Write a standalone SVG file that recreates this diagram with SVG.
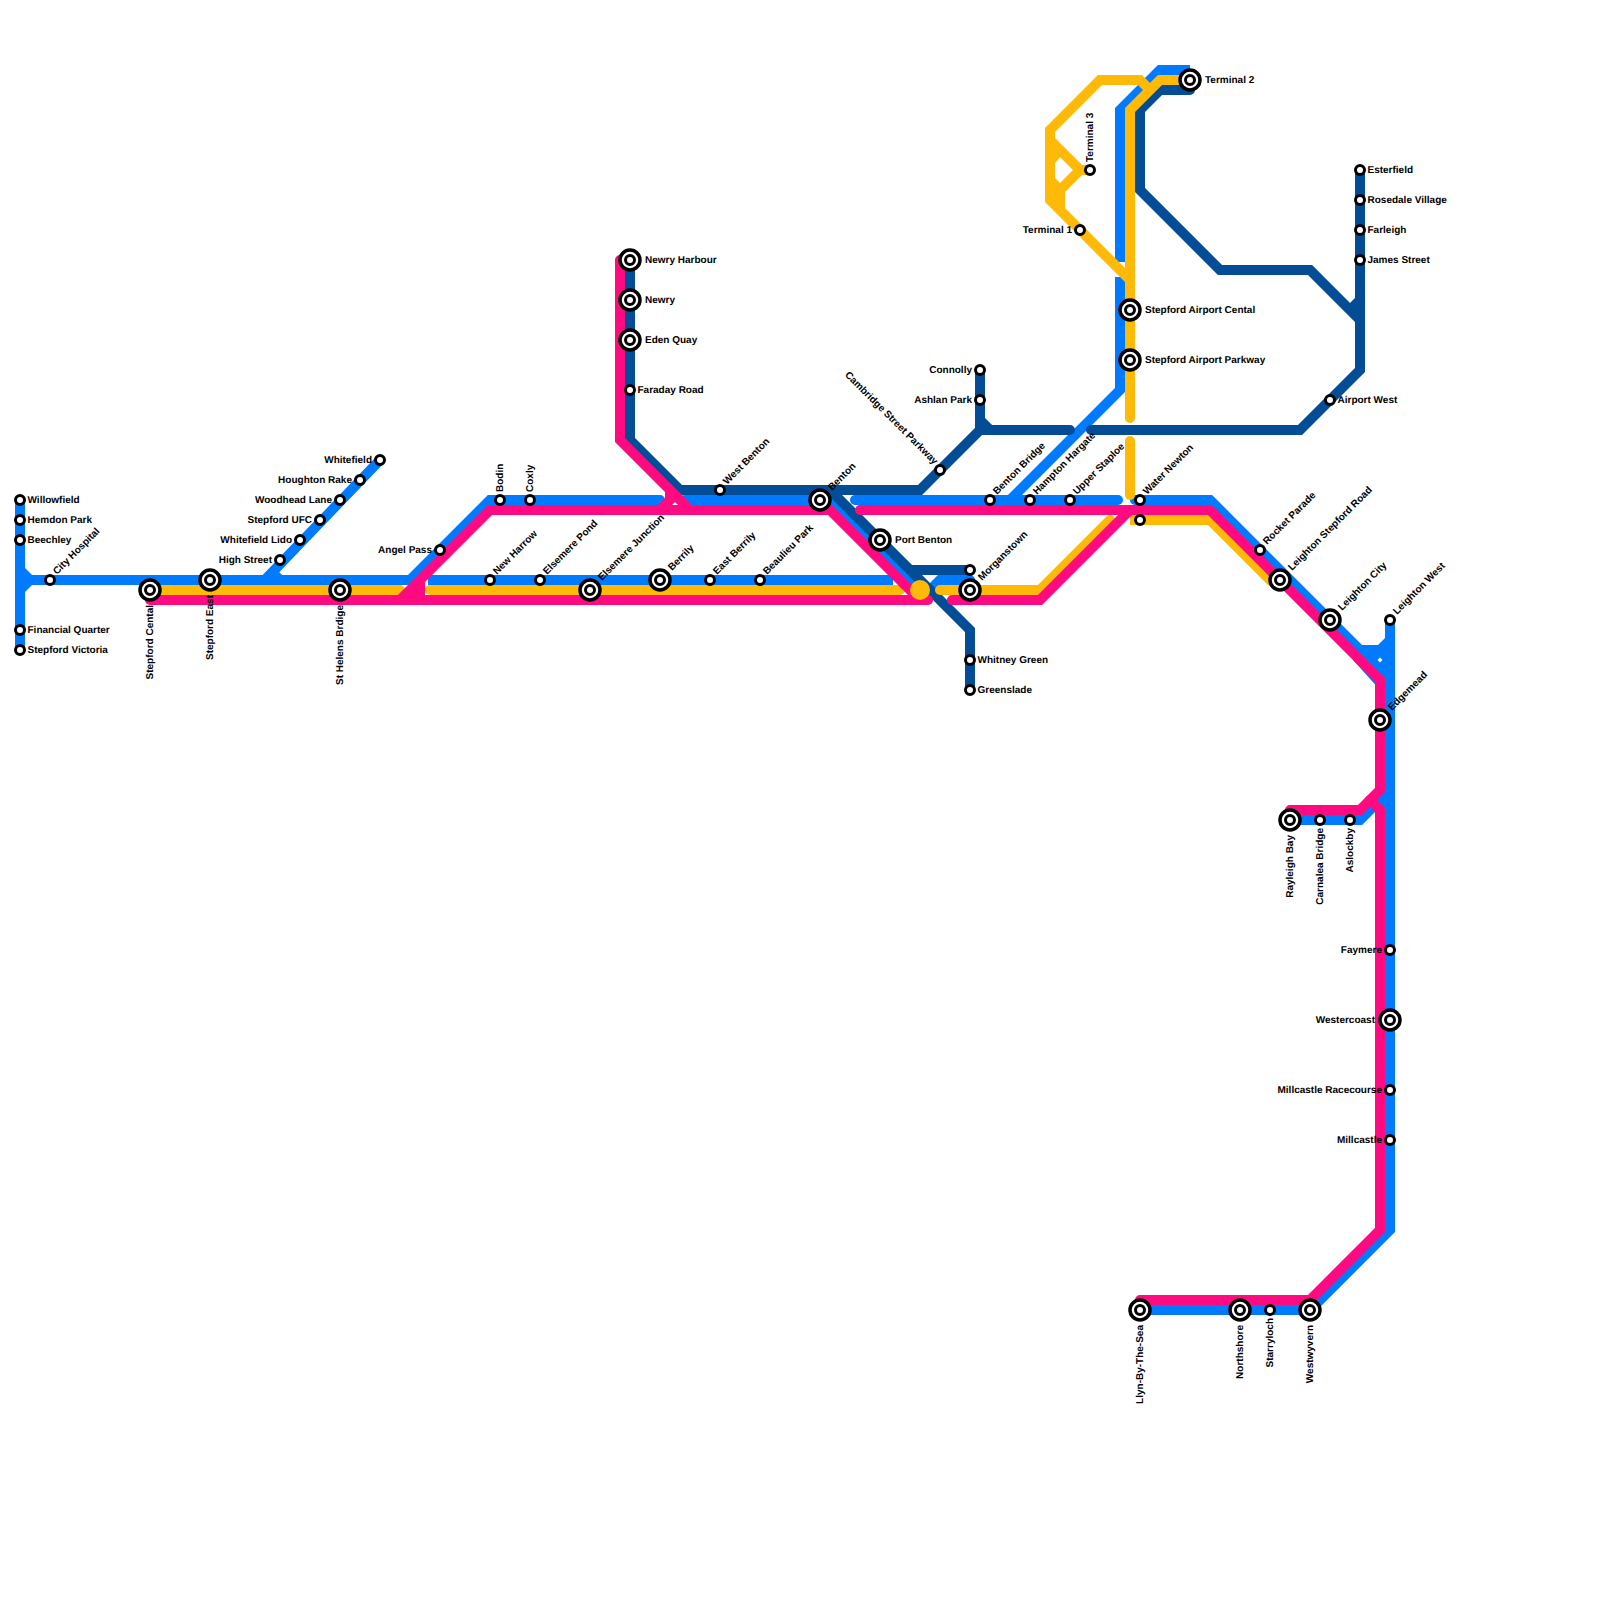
<svg xmlns="http://www.w3.org/2000/svg" width="1600" height="1600" viewBox="0 0 1600 1600">
<style>
.l{fill:none;stroke-width:10;stroke-linecap:round;stroke-linejoin:miter;stroke-miterlimit:4}
.b{stroke-linecap:butt}
.blue{stroke:#007AFF}.dark{stroke:#034C96}.yel{stroke:#FFBA08}.pink{stroke:#FF0A80}
.fb{fill:#007AFF;fill-rule:evenodd}.fy{fill:#FFBA08}
circle{fill:#fff;stroke:#000}
.s{stroke-width:3}
.o{stroke-width:3.5}
.c{fill:#FFBA08;stroke:none}
text{font:bold 10px "Liberation Sans",Arial,sans-serif;fill:#000;text-rendering:geometricPrecision}
.e{text-anchor:end}
</style>
<rect width="1600" height="1600" fill="#fff"/>
<g id="connectors">
<g id="line-blue">
<path class="l blue" d="M20 500V650M20 570L30 580L20 590M20 580H410L490 500H660"/>
<path class="l blue b" d="M260 585L380 460M270 570L280 580"/>
<path class="l blue" d="M685 500H830L920 590"/>
<path class="l blue b" d="M428 580H893"/>
<path class="l blue" d="M930 590L940 580H970"/>
<path class="l blue" d="M855 500H1118"/>
<path class="l blue b" d="M1010 500L1120 390V277"/>
<path class="l blue b" d="M1120 262V110L1160 70H1190"/>
<path class="l blue" d="M1135 500H1210L1360 650M1390 620V1230L1310 1310H1140"/>
<path class="fb" d="M1358 645H1378L1385 638H1390V690H1380L1353 660ZM1380 657.500L1382.500 660L1380 662.500L1377.500 660Z"/>
<path class="l blue" d="M1290 820H1360L1390 790"/>
<path class="l blue b" d="M1378 798L1390 810"/>
</g>
<g id="line-dark">
<path class="l dark" d="M630 260V440L680 490H920L980 430H1070"/>
<path class="l dark" d="M980 370V430M980 420L990 430"/>
<path class="l dark" d="M1091 430H1300L1360 370V170"/>
<path class="l dark" d="M1190 90H1160L1140 110V190L1220 270H1310L1360 320M1350 310L1360 300"/>
<path class="l dark" d="M830 490L970 630V690M910 570H970"/>
</g>
<g id="line-yellow">
<path class="l yel" d="M150 590H400"/>
<path class="l yel" d="M430 590H900"/>
<path class="l yel" d="M940 590H1040L1110 520"/>
<path class="l yel" d="M1130 441V495"/>
<path class="l yel" d="M1130 418V110L1160 80H1190"/>
<path class="l yel b" d="M1130 280L1050 200V130L1100 80H1140L1150 90"/>
<path class="l yel b" d="M1050 140L1080 170H1090M1080 170L1060 190V210"/>
<path class="fy" d="M1050 140L1062 155L1055 163ZM1055 178L1060 183L1065 190V208L1050 205Z"/>
<path class="l yel b" d="M1130 520H1210L1272 582"/>
</g>
<g id="line-pink">
<path class="l pink" d="M150 600H928"/>
<path class="l pink" d="M400 600L490 510H830L920 600"/>
<path class="l pink b" d="M420 580V600M408 590H425"/>
<path class="l pink" d="M620 260V440L690 510"/>
<path class="l pink b" d="M670 490V500L660 510"/>
<path class="l pink" d="M860 510H1210L1380 680V790L1360 810H1290"/>
<path class="l pink" d="M952 600H1040L1130 510"/>
<path class="l pink" d="M1370 800L1380 810V1230L1310 1300H1140"/>
</g>
<circle class="c" cx="920" cy="590" r="10"/>
</g>
<g id="stations">
<g id="willowfield"><circle class="s" cx="20" cy="500" r="4.500"/><text x="27.500" y="502.500">Willowfield</text></g>
<g id="hemdon-park"><circle class="s" cx="20" cy="520" r="4.500"/><text x="27.500" y="522.500">Hemdon Park</text></g>
<g id="beechley"><circle class="s" cx="20" cy="540" r="4.500"/><text x="27.500" y="542.500">Beechley</text></g>
<g id="city-hospital"><circle class="s" cx="50" cy="580" r="4.500"/><text transform="translate(57 575) rotate(-45)">City Hospital</text></g>
<g id="financial-quarter"><circle class="s" cx="20" cy="630" r="4.500"/><text x="27.500" y="632.500">Financial Quarter</text></g>
<g id="stepford-victoria"><circle class="s" cx="20" cy="650" r="4.500"/><text x="27.500" y="652.500">Stepford Victoria</text></g>
<g id="stepford-cental"><circle class="o" cx="150" cy="590" r="10"/><circle class="s" cx="150" cy="590" r="4.500"/><text class="e" transform="translate(153 605) rotate(-90)">Stepford Cental</text></g>
<g id="stepford-east"><circle class="o" cx="210" cy="580" r="10"/><circle class="s" cx="210" cy="580" r="4.500"/><text class="e" transform="translate(213 595) rotate(-90)">Stepford East</text></g>
<g id="st-helens"><circle class="o" cx="340" cy="590" r="10"/><circle class="s" cx="340" cy="590" r="4.500"/><text class="e" transform="translate(343 605) rotate(-90)">St Helens Brdige</text></g>
<g id="high-street"><circle class="s" cx="280" cy="560" r="4.500"/><text class="e" x="272" y="562.500">High Street</text></g>
<g id="whitefield-lido"><circle class="s" cx="300" cy="540" r="4.500"/><text class="e" x="292" y="542.500">Whitefield Lido</text></g>
<g id="stepford-ufc"><circle class="s" cx="320" cy="520" r="4.500"/><text class="e" x="312" y="522.500">Stepford UFC</text></g>
<g id="woodhead-lane"><circle class="s" cx="340" cy="500" r="4.500"/><text class="e" x="332" y="502.500">Woodhead Lane</text></g>
<g id="houghton-rake"><circle class="s" cx="360" cy="480" r="4.500"/><text class="e" x="352" y="482.500">Houghton Rake</text></g>
<g id="whitefield"><circle class="s" cx="380" cy="460" r="4.500"/><text class="e" x="372" y="462.500">Whitefield</text></g>
<g id="angel-pass"><circle class="s" cx="440" cy="550" r="4.500"/><text class="e" x="432" y="552.500">Angel Pass</text></g>
<g id="bodin"><circle class="s" cx="500" cy="500" r="4.500"/><text transform="translate(503 492) rotate(-90)">Bodin</text></g>
<g id="coxly"><circle class="s" cx="530" cy="500" r="4.500"/><text transform="translate(533 492) rotate(-90)">Coxly</text></g>
<g id="new-harrow"><circle class="s" cx="490" cy="580" r="4.500"/><text transform="translate(497 575) rotate(-45)">New Harrow</text></g>
<g id="elsemere-pond"><circle class="s" cx="540" cy="580" r="4.500"/><text transform="translate(547 575) rotate(-45)">Elsemere Pond</text></g>
<g id="elsemere-junction"><circle class="o" cx="590" cy="590" r="10"/><circle class="s" cx="590" cy="590" r="4.500"/><text transform="translate(602 581) rotate(-45)">Elsemere Junction</text></g>
<g id="berrily"><circle class="o" cx="660" cy="580" r="10"/><circle class="s" cx="660" cy="580" r="4.500"/><text transform="translate(672 571) rotate(-45)">Berrily</text></g>
<g id="east-berrily"><circle class="s" cx="710" cy="580" r="4.500"/><text transform="translate(717 575) rotate(-45)">East Berrily</text></g>
<g id="beaulieu-park"><circle class="s" cx="760" cy="580" r="4.500"/><text transform="translate(767 575) rotate(-45)">Beaulieu Park</text></g>
<g id="west-benton"><circle class="s" cx="720" cy="490" r="4.500"/><text transform="translate(727 485) rotate(-45)">West Benton</text></g>
<g id="benton"><circle class="o" cx="820" cy="500" r="10"/><circle class="s" cx="820" cy="500" r="4.500"/><text transform="translate(832 491) rotate(-45)">Benton</text></g>
<g id="port-benton"><circle class="o" cx="880" cy="540" r="10"/><circle class="s" cx="880" cy="540" r="4.500"/><text x="895" y="542.500">Port Benton</text></g>
<g id="cambridge-street-parkway"><circle class="s" cx="940" cy="470" r="4.500"/><text class="e" transform="translate(934 465) rotate(45)">Cambridge Street Parkway</text></g>
<g id="connolly"><circle class="s" cx="980" cy="370" r="4.500"/><text class="e" x="972" y="372.500">Connolly</text></g>
<g id="ashlan-park"><circle class="s" cx="980" cy="400" r="4.500"/><text class="e" x="972" y="402.500">Ashlan Park</text></g>
<g id="benton-bridge"><circle class="s" cx="990" cy="500" r="4.500"/><text transform="translate(997 495) rotate(-45)">Benton Bridge</text></g>
<g id="hampton-hargate"><circle class="s" cx="1030" cy="500" r="4.500"/><text transform="translate(1037 495) rotate(-45)">Hampton Hargate</text></g>
<g id="upper-staploe"><circle class="s" cx="1070" cy="500" r="4.500"/><text transform="translate(1077 495) rotate(-45)">Upper Staploe</text></g>
<g id="water-newton"><circle class="s" cx="1140" cy="500" r="4.500"/><text transform="translate(1147 495) rotate(-45)">Water Newton</text></g>
<g id="water-newton-2"><circle class="s" cx="1140" cy="520" r="4.500"/></g>
<g id="morganstown-2"><circle class="s" cx="970" cy="570" r="4.500"/></g>
<g id="morganstown"><circle class="o" cx="970" cy="590" r="10"/><circle class="s" cx="970" cy="590" r="4.500"/><text transform="translate(982 581) rotate(-45)">Morganstown</text></g>
<g id="whitney-green"><circle class="s" cx="970" cy="660" r="4.500"/><text x="977.500" y="662.500">Whitney Green</text></g>
<g id="greenslade"><circle class="s" cx="970" cy="690" r="4.500"/><text x="977.500" y="692.500">Greenslade</text></g>
<g id="newry-harbour"><circle class="o" cx="630" cy="260" r="10"/><circle class="s" cx="630" cy="260" r="4.500"/><text x="645" y="262.500">Newry Harbour</text></g>
<g id="newry"><circle class="o" cx="630" cy="300" r="10"/><circle class="s" cx="630" cy="300" r="4.500"/><text x="645" y="302.500">Newry</text></g>
<g id="eden-quay"><circle class="o" cx="630" cy="340" r="10"/><circle class="s" cx="630" cy="340" r="4.500"/><text x="645" y="342.500">Eden Quay</text></g>
<g id="faraday-road"><circle class="s" cx="630" cy="390" r="4.500"/><text x="637.500" y="392.500">Faraday Road</text></g>
<g id="terminal-2"><circle class="o" cx="1190" cy="80" r="10"/><circle class="s" cx="1190" cy="80" r="4.500"/><text x="1205" y="82.500">Terminal 2</text></g>
<g id="terminal-3"><circle class="s" cx="1090" cy="170" r="4.500"/><text transform="translate(1093 162) rotate(-90)">Terminal 3</text></g>
<g id="terminal-1"><circle class="s" cx="1080" cy="230" r="4.500"/><text class="e" x="1072" y="232.500">Terminal 1</text></g>
<g id="stepford-airport-cental"><circle class="o" cx="1130" cy="310" r="10"/><circle class="s" cx="1130" cy="310" r="4.500"/><text x="1145" y="312.500">Stepford Airport Cental</text></g>
<g id="stepford-airport-parkway"><circle class="o" cx="1130" cy="360" r="10"/><circle class="s" cx="1130" cy="360" r="4.500"/><text x="1145" y="362.500">Stepford Airport Parkway</text></g>
<g id="esterfield"><circle class="s" cx="1360" cy="170" r="4.500"/><text x="1367.500" y="172.500">Esterfield</text></g>
<g id="rosedale-village"><circle class="s" cx="1360" cy="200" r="4.500"/><text x="1367.500" y="202.500">Rosedale Village</text></g>
<g id="farleigh"><circle class="s" cx="1360" cy="230" r="4.500"/><text x="1367.500" y="232.500">Farleigh</text></g>
<g id="james-street"><circle class="s" cx="1360" cy="260" r="4.500"/><text x="1367.500" y="262.500">James Street</text></g>
<g id="airport-west"><circle class="s" cx="1330" cy="400" r="4.500"/><text x="1337.500" y="402.500">Airport West</text></g>
<g id="rocket-parade"><circle class="s" cx="1260" cy="550" r="4.500"/><text transform="translate(1267 545) rotate(-45)">Rocket Parade</text></g>
<g id="leighton-stepford-road"><circle class="o" cx="1280" cy="580" r="10"/><circle class="s" cx="1280" cy="580" r="4.500"/><text transform="translate(1292 571) rotate(-45)">Leighton Stepford Road</text></g>
<g id="leighton-city"><circle class="o" cx="1330" cy="620" r="10"/><circle class="s" cx="1330" cy="620" r="4.500"/><text transform="translate(1342 611) rotate(-45)">Leighton City</text></g>
<g id="leighton-west"><circle class="s" cx="1390" cy="620" r="4.500"/><text transform="translate(1397 615) rotate(-45)">Leighton West</text></g>
<g id="edgemead"><circle class="o" cx="1380" cy="720" r="10"/><circle class="s" cx="1380" cy="720" r="4.500"/><text transform="translate(1392 711) rotate(-45)">Edgemead</text></g>
<g id="rayleigh-bay"><circle class="o" cx="1290" cy="820" r="10"/><circle class="s" cx="1290" cy="820" r="4.500"/><text class="e" transform="translate(1293 835) rotate(-90)">Rayleigh Bay</text></g>
<g id="carnalea-bridge"><circle class="s" cx="1320" cy="820" r="4.500"/><text class="e" transform="translate(1323 828) rotate(-90)">Carnalea Bridge</text></g>
<g id="aslockby"><circle class="s" cx="1350" cy="820" r="4.500"/><text class="e" transform="translate(1353 828) rotate(-90)">Aslockby</text></g>
<g id="faymere"><circle class="s" cx="1390" cy="950" r="4.500"/><text class="e" x="1382" y="952.500">Faymere</text></g>
<g id="westercoast"><circle class="o" cx="1390" cy="1020" r="10"/><circle class="s" cx="1390" cy="1020" r="4.500"/><text class="e" x="1375" y="1022.500">Westercoast</text></g>
<g id="millcastle-racecourse"><circle class="s" cx="1390" cy="1090" r="4.500"/><text class="e" x="1382" y="1092.500">Millcastle Racecourse</text></g>
<g id="millcastle"><circle class="s" cx="1390" cy="1140" r="4.500"/><text class="e" x="1382" y="1142.500">Millcastle</text></g>
<g id="llyn-by-the-sea"><circle class="o" cx="1140" cy="1310" r="10"/><circle class="s" cx="1140" cy="1310" r="4.500"/><text class="e" transform="translate(1143 1325) rotate(-90)">Llyn-By-The-Sea</text></g>
<g id="northshore"><circle class="o" cx="1240" cy="1310" r="10"/><circle class="s" cx="1240" cy="1310" r="4.500"/><text class="e" transform="translate(1243 1325) rotate(-90)">Northshore</text></g>
<g id="starryloch"><circle class="s" cx="1270" cy="1310" r="4.500"/><text class="e" transform="translate(1273 1318) rotate(-90)">Starryloch</text></g>
<g id="westwyvern"><circle class="o" cx="1310" cy="1310" r="10"/><circle class="s" cx="1310" cy="1310" r="4.500"/><text class="e" transform="translate(1313 1325) rotate(-90)">Westwyvern</text></g>
</g>
</svg>
